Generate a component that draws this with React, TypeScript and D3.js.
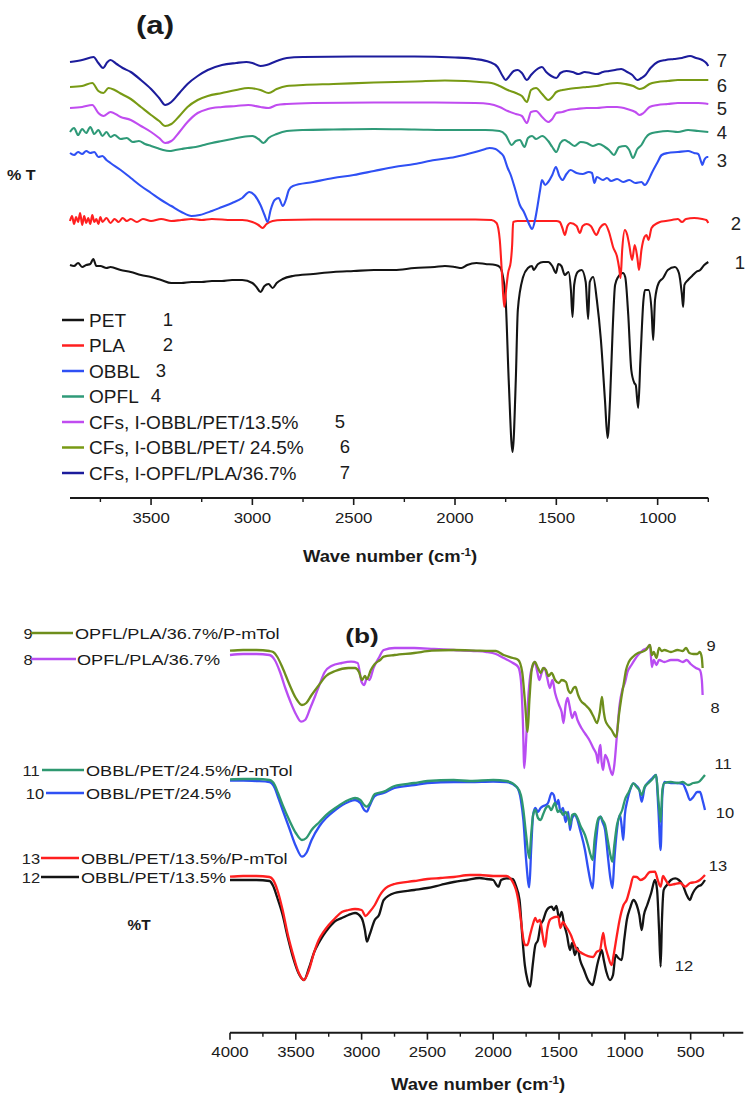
import React from "react";
import * as d3 from "d3";

// ---------- Panel (a): wavenumber (cm-1) vs stacked %T (arbitrary offset units) ----------
const PET_1: [number, number][] = [
  [3900,235],[3880,234],[3860,237],[3840,233],[3820,235],[3800,236],[3785,241],[3770,234],[3750,234],[3720,232],[3700,233],[3650,230],[3600,228],[3550,225],[3500,223],[3450,220],[3400,217],[3350,217],[3300,218],[3250,218],[3200,219],[3150,219],[3100,220],[3050,220],[3000,217],[2980,213],[2960,208],[2940,214],[2920,216],[2900,212],[2880,217],[2850,221],[2800,224],[2700,226],[2600,228],[2500,229],[2400,230],[2300,230],[2200,232],[2100,233],[2050,234],[2000,233],[1968,232],[1940,235],[1894,237],[1850,236],[1800,235],[1779,233],[1765,225],[1750,200],[1735,120],[1716,48],[1700,120],[1690,190],[1664,223],[1640,232],[1620,234],[1612,230],[1590,236],[1565,238],[1540,238],[1520,234],[1502,227],[1490,236],[1475,234],[1458,225],[1440,228],[1428,210],[1420,183],[1412,215],[1395,228],[1375,230],[1355,218],[1343,181],[1335,218],[1318,223],[1300,200],[1280,160],[1260,100],[1247,62],[1235,100],[1222,170],[1210,215],[1195,223],[1171,227],[1160,223],[1145,185],[1130,130],[1115,117],[1108,115],[1096,92],[1085,140],[1070,200],[1063,210],[1045,210],[1030,190],[1022,160],[1013,200],[995,217],[973,222],[950,230],[915,233],[895,227],[880,205],[874,193],[868,215],[850,220],[830,224],[810,228],[790,230],[770,235],[750,238],
];
const PLA_2: [number, number][] = [
  [3900,279],[3890,284],[3880,276],[3870,283],[3860,278],[3850,287],[3840,275],[3830,284],[3820,277],[3810,282],[3800,276],[3790,285],[3780,278],[3770,281],[3760,276],[3750,283],[3740,278],[3720,282],[3700,277],[3680,281],[3660,278],[3640,282],[3620,279],[3600,281],[3570,278],[3540,281],[3500,279],[3450,281],[3400,279],[3350,280],[3300,281],[3250,280],[3200,281],[3100,280],[3050,280],[3000,278],[2970,275],[2950,272],[2930,276],[2900,279],[2850,280],[2700,280.5],[2500,280.5],[2300,280.5],[2100,280.5],[1900,280.5],[1820,280],[1795,277],[1779,260],[1768,225],[1757,193],[1748,210],[1738,227],[1725,238],[1718,255],[1713,278],[1690,279],[1600,279],[1500,279],[1483,278],[1470,272],[1458,265],[1445,274],[1430,277],[1400,274],[1384,267],[1370,274],[1350,276],[1330,274],[1302,265],[1285,272],[1260,276],[1240,268],[1220,253],[1200,243],[1190,232],[1183,222],[1175,250],[1162,270],[1150,265],[1140,255],[1126,240],[1113,255],[1100,242],[1092,230],[1080,250],[1065,263],[1055,265],[1045,260],[1030,272],[1000,277],[989,278],[960,279],[930,280],[900,281],[880,278],[860,281],[820,282],[780,281],[760,280],[750,277],
];
const OBBL_3: [number, number][] = [
  [3900,347],[3880,345],[3860,348],[3840,346],[3820,349],[3800,347],[3780,348],[3760,343],[3740,344],[3720,340],[3700,337],[3650,330],[3600,322],[3550,314],[3500,307],[3450,300],[3400,294],[3350,288],[3300,284],[3260,285],[3200,289],[3150,293],[3100,297],[3050,302],[3015,308],[2990,305],[2960,295],[2940,285],[2925,278],[2910,290],[2890,300],[2870,302],[2850,294],[2835,300],[2820,310],[2800,314],[2700,318],[2600,322],[2500,325],[2400,329],[2300,333],[2200,336],[2100,340],[2000,343],[1900,348],[1850,351],[1830,352],[1800,351],[1780,348],[1761,344],[1740,332],[1725,325],[1702,310],[1680,295],[1660,288],[1643,280],[1630,274],[1620,271],[1605,280],[1596,290],[1580,310],[1571,320],[1555,315],[1540,318],[1520,325],[1502,333],[1485,324],[1470,320],[1450,326],[1430,330],[1400,327],[1370,326],[1340,328],[1324,327],[1312,317],[1300,323],[1270,320],[1250,322],[1230,319],[1200,321],[1170,318],[1140,320],[1110,317],[1080,318],[1063,315],[1045,320],[1029,327],[1000,338],[980,345],[950,347],[900,348],[850,349],[820,347],[800,346],[785,338],[779,335],[770,340],[755,343],[750,343],
];
const OPFL_4: [number, number][] = [
  [3900,368],[3880,372],[3860,365],[3840,371],[3820,367],[3800,373],[3780,366],[3760,370],[3740,364],[3720,368],[3700,363],[3680,365],[3650,361],[3620,362],[3590,358],[3560,359],[3530,356],[3500,354],[3470,352],[3440,350],[3410,349],[3380,350],[3350,351],[3320,352],[3280,353],[3240,355],[3200,357],[3150,359],[3100,361],[3050,363],[3000,364],[2970,361],[2945,357],[2920,362],[2880,366],[2830,369],[2750,370],[2600,370.5],[2400,371],[2200,370.5],[2000,370],[1850,370],[1780,369],[1750,365],[1720,355],[1700,359],[1680,360],[1657,353],[1640,362],[1620,364],[1600,361],[1570,364],[1540,359],[1520,353],[1500,348],[1480,357],[1460,360],[1440,358],[1410,354],[1380,358],[1350,357],[1320,354],[1290,356],[1260,353],[1240,350],[1216,345],[1190,353],[1160,354],[1140,350],[1122,342],[1100,351],[1080,355],[1060,362],[1040,366],[1000,368],[950,369],[900,368],[850,370],[800,369],[750,368],
];
const CF_OBBL_PET_135_5: [number, number][] = [
  [3900,392],[3840,393],[3790,395],[3760,387],[3735,384],[3700,388],[3650,383],[3600,380],[3550,374],[3500,368],[3460,362],[3430,357],[3400,359],[3360,368],[3320,378],[3270,387],[3220,391],[3150,393],[3080,394],[3020,395],[2960,393],[2920,392],[2880,395],[2830,396],[2700,397],[2400,397.5],[2100,397.5],[1900,397],[1830,396],[1780,393],[1740,389],[1700,386],[1670,384],[1645,377],[1625,388],[1600,389],[1570,383],[1540,378],[1520,381],[1500,387],[1470,388],[1440,390],[1400,391],[1350,392],[1300,392],[1250,393],[1200,393],[1150,391],[1110,388],[1090,385],[1070,387],[1040,393],[1000,395],[950,396],[900,397],[850,397],[800,397],[750,396],
];
const CF_OBBL_PET_245_6: [number, number][] = [
  [3900,413],[3840,414],[3790,417],[3760,409],[3735,407],[3710,412],[3680,410],[3645,406],[3600,401],[3550,393],[3500,385],[3460,379],[3430,374],[3400,376],[3360,384],[3320,393],[3270,400],[3220,404],[3150,407],[3080,410],[3020,412],[2960,410],[2920,407],[2880,411],[2830,414],[2750,415],[2600,416],[2400,417.5],[2200,418.5],[2050,419.5],[1950,419],[1880,418],[1820,417],[1780,414],[1740,410],[1700,407],[1670,404],[1645,398],[1625,410],[1600,412],[1570,406],[1540,400],[1520,403],[1500,408],[1470,410],[1440,411],[1400,412],[1350,413],[1300,414],[1250,416],[1200,417],[1160,416],[1120,414],[1090,411],[1070,412],[1040,416],[1000,418],[950,419],[900,420],[850,420],[800,420],[750,420],
];
const CF_OPFL_PLA_367_7: [number, number][] = [
  [3900,438],[3840,440],[3784,443],[3760,437],[3737,432],[3715,438],[3700,440],[3670,436],[3640,432],[3600,428],[3550,420],[3500,411],[3460,402],[3430,395],[3400,398],[3360,407],[3320,416],[3270,424],[3220,430],[3150,435],[3080,437],[3030,438],[3000,437],[2960,434],[2930,435],[2880,439],[2830,442],[2750,443],[2500,443.5],[2200,443.5],[2000,442.5],[1900,441],[1830,438],[1790,433],[1765,424],[1750,420],[1735,423],[1710,429],[1690,430],[1670,427],[1645,420],[1625,425],[1600,430],[1571,433],[1550,428],[1525,424],[1500,422],[1480,427],[1450,429],[1420,428],[1390,426],[1360,428],[1330,427],[1300,426],[1270,428],[1240,429],[1210,430],[1180,431],[1150,428],[1125,425],[1100,420],[1080,422],[1060,425],[1035,432],[1000,438],[960,440],[920,441],[880,442],[840,444],[810,442],[780,440],[760,437],[750,434],
];

// ---------- Panel (b) ----------
const OPFL_PLA_367_8: [number, number][] = [
  [4000,345],[3900,346],[3800,346],[3700,345],[3660,340],[3620,328],[3580,312],[3540,298],[3500,286],[3460,278.3],[3430,280],[3390,292],[3350,305],[3324,314],[3280,328],[3230,334],[3150,337],[3080,338.3],[3030,337],[3000,318],[2980,315],[2960,322],[2940,320],[2910,332],[2870,342],[2832,350],[2750,352],[2600,352],[2450,351],[2300,350],[2150,349],[2050,348],[1980,346],[1921,342],[1850,337],[1810,333],[1790,320],[1775,280],[1764,232],[1750,260],[1735,300],[1718,325],[1700,334],[1684,338],[1665,328],[1650,320],[1630,328],[1610,332],[1590,322],[1570,312],[1550,320],[1530,307],[1500,295],[1480,288],[1466,277],[1450,295],[1435,302],[1420,294],[1400,282],[1380,288],[1360,280],[1330,272],[1300,266],[1270,260],[1240,252],[1215,245],[1203,237],[1195,250],[1185,255],[1178,240],[1165,230],[1150,245],[1130,240],[1110,230],[1094,225],[1080,235],[1060,265],[1040,295],[1020,310],[1000,317],[980,328],[950,335],[900,345],[860,350],[830,352],[809,355],[795,333],[780,340],[760,335],[740,340],[700,338],[650,340],[600,340],[560,338],[530,340],[500,336],[460,332],[430,330],[415,320],[409,305],
];
const OPFL_PLA_367_PMTOL_9: [number, number][] = [
  [4000,349.3],[3900,350],[3800,350],[3700,349],[3672,348],[3640,343],[3600,332],[3550,316],[3500,302],[3453,295],[3420,297],[3380,305],[3324,315],[3270,324],[3200,329],[3100,332],[3050,332],[3020,328],[2997,320],[2975,324],[2960,321],[2930,330],[2900,336],[2860,340],[2832,343.3],[2750,345],[2600,347],[2467,349.3],[2300,350],[2100,349.3],[1980,349],[1921,345],[1850,342],[1810,340],[1780,328],[1760,300],[1739,268.3],[1725,300],[1710,328],[1700,335],[1684,338],[1660,332],[1640,327],[1620,332],[1600,330],[1580,324],[1556,327],[1530,320],[1502,317],[1480,320],[1447,318],[1430,310],[1411,307],[1390,312],[1375,313],[1355,305],[1338,300],[1300,295],[1265,290],[1240,284],[1211,277],[1190,288],[1174,303],[1160,288],[1149,280],[1125,274],[1101,270],[1080,265],[1065,263],[1045,285],[1029,300],[1010,315],[991,330],[970,338],[940,343],[900,347],[870,348],[840,350],[809,355],[795,345],[780,348],[760,342],[740,352],[720,349],[700,350],[650,348],[600,350],[560,349],[535,352],[510,347],[480,346],[450,346],[430,348],[415,342],[409,332],
];
const OBBL_PET_245_10: [number, number][] = [
  [4000,219.3],[3900,219.5],[3800,219],[3700,218],[3660,212],[3635,203],[3600,190],[3550,172],[3500,154],[3453,143.3],[3420,147],[3380,160],[3320,174],[3270,182],[3200,190],[3100,198],[3050,200],[3010,197],[2980,190],[2960,188.3],[2940,194],[2900,204],[2832,207],[2750,212],[2600,215],[2500,217],[2300,218],[2176,218],[2000,218.5],[1900,218],[1822,213],[1790,200],[1771,180],[1750,140],[1726,112.7],[1712,150],[1697,185],[1680,192],[1660,188],[1640,192],[1620,194],[1600,195],[1584,197],[1556,207],[1540,205],[1531,200],[1520,195],[1505,200],[1490,188],[1470,192],[1450,178],[1430,188],[1417,170],[1400,182],[1380,185],[1360,180],[1340,170],[1303,150],[1280,132],[1260,118],[1244,111.7],[1230,140],[1214,165],[1200,180],[1184,183.3],[1170,178],[1150,170],[1130,145],[1110,122],[1094,112],[1080,140],[1060,170],[1037,185],[1025,175],[1012,160],[1000,185],[980,200],[960,210],[935,216.7],[910,214],[890,210],[872,198.3],[850,212],[820,218],[790,222],[763,225],[745,190],[728,150],[715,205],[700,218],[650,217],[600,217],[560,216],[530,208],[505,200],[480,203],[450,208],[429,208],[410,200],[391,190],
];
const OBBL_PET_245_PMTOL_11: [number, number][] = [
  [4000,220.7],[3900,221],[3800,221],[3700,220],[3660,215],[3635,207],[3600,195],[3550,180],[3500,167],[3453,160],[3420,162],[3380,170],[3320,178],[3270,185],[3200,192],[3100,200],[3050,202],[3010,200],[2980,195],[2960,193.3],[2940,196],[2900,206],[2832,208.3],[2750,214],[2600,217],[2500,219],[2300,220],[2176,219],[2000,220],[1900,219],[1822,213.3],[1790,205],[1771,190],[1750,165],[1726,141.7],[1712,165],[1697,185],[1680,190],[1660,182],[1640,180],[1620,186],[1600,192],[1580,194],[1560,190],[1531,197],[1510,188],[1490,190],[1470,185],[1450,188],[1430,182],[1417,175],[1400,185],[1380,186],[1360,182],[1340,175],[1303,165],[1280,155],[1260,145],[1244,140],[1230,160],[1214,175],[1200,182],[1184,183.3],[1170,180],[1150,175],[1130,160],[1110,145],[1094,138.3],[1080,155],[1060,175],[1037,185],[1020,190],[1000,200],[970,208],[935,216.7],[910,213],[890,210],[872,205],[850,213],[820,217],[790,221],[763,225],[745,200],[728,178.3],[715,210],[700,217],[650,218],[600,217],[560,218],[520,215],[480,217],[440,218],[410,222],[391,225],
];
const OBBL_PET_135_12: [number, number][] = [
  [4000,120],[3900,120],[3800,120],[3700,119],[3672,114],[3640,102],[3600,85],[3560,62],[3520,42],[3480,27],[3438,20],[3400,32],[3360,48],[3326,57],[3290,65],[3250,72],[3200,79],[3150,82],[3100,85],[3050,87],[3000,82],[2975,70],[2960,58.3],[2940,65],[2900,80],[2868,85],[2832,100],[2750,107],[2600,110],[2500,112],[2400,115],[2300,118],[2200,120],[2104,122],[2050,121],[2000,120],[1975,115],[1961,113.3],[1940,120],[1900,121.7],[1850,121],[1830,115],[1800,100],[1780,65],[1760,35],[1740,20],[1720,13.3],[1700,35],[1680,55],[1660,60],[1640,75],[1620,80],[1600,88],[1580,92],[1556,93.3],[1540,90],[1520,94],[1500,82],[1480,88],[1460,75],[1440,65],[1417,50],[1400,57],[1380,45],[1360,52],[1340,40],[1310,30],[1280,20],[1265,17],[1245,15],[1225,25],[1210,35],[1190,45],[1176,50],[1160,40],[1140,28],[1113,20],[1090,25],[1070,45],[1050,42],[1024,40],[1005,60],[985,80],[960,92],[935,100],[910,95],[890,85],[872,70],[855,85],[830,95],[800,107],[771,120],[755,110],[740,70],[728,33.3],[718,80],[705,110],[680,115],[650,120],[617,121.7],[590,120],[560,115],[530,105],[505,100],[490,105],[470,110],[440,114],[420,115],[391,120],
];
const OBBL_PET_135_PMTOL_13: [number, number][] = [
  [4000,123.3],[3900,124],[3800,124],[3700,123],[3672,120],[3640,110],[3600,90],[3560,65],[3520,45],[3480,28],[3438,20],[3400,30],[3360,48],[3326,60],[3290,68],[3250,75],[3200,82],[3150,88],[3100,90],[3050,91],[3000,90],[2970,84],[2940,88],[2900,95],[2860,105],[2832,110],[2750,116],[2600,119],[2500,121],[2400,122],[2300,123],[2176,125],[2100,125],[2000,124],[1900,124],[1835,113.3],[1810,100],[1790,80],[1770,60],[1758,55],[1740,55],[1720,65],[1700,75],[1680,82],[1665,78],[1645,80],[1625,65],[1607,53.3],[1590,70],[1570,80],[1550,82],[1530,83],[1506,83.3],[1490,72],[1470,78],[1450,74],[1430,70],[1410,65],[1390,58],[1370,52],[1340,48],[1300,45],[1265,43.3],[1240,43],[1215,48],[1189,50],[1164,67],[1150,55],[1130,45],[1100,35],[1085,45],[1060,65],[1040,80],[1010,95],[986,100],[960,112],[935,123.3],[910,123],[880,120],[850,122],[810,128],[771,128.3],[750,120],[728,113.3],[710,124],[690,120],[660,115],[620,116],[580,117],[540,113.3],[505,117],[460,118],[430,120],[391,125],
];

const TICKS_A = [3500, 3000, 2500, 2000, 1500, 1000];
const MINOR_A = [3750, 3250, 2750, 2250, 1750, 1250, 750];
const TICKS_B = [4000, 3500, 3000, 2500, 2000, 1500, 1000, 500];
const MINOR_B = [3750, 3250, 2750, 2250, 1750, 1250, 750, 250];

const LEGEND_A = ["PET", "PLA", "OBBL", "OPFL", "CFs, I-OBBL/PET/13.5%", "CFs, I-OBBL/PET/ 24.5%", "CFs, I-OPFL/PLA/36.7%"];
const LEGEND_A_NUM = ["1", "2", "3", "4", "5", "6", "7"];

const FONT = "'Liberation Sans', Arial, Helvetica, sans-serif";

const C = {
  black: "#141414",
  red: "#ff1f1f",
  blue: "#2f50f4",
  teal: "#2f9a78",
  violet: "#c04cf0",
  olive: "#789a14",
  navy: "#1c1c9c",
  teal2: "#2e9870",
  olive2: "#6e8e1c",
  violet2: "#b94df2",
};

function T({ x, y, children, size = 14, sx = 1.2, anchor = "start", bold = false, fill = "#1a1a1a" }: any) {
  return (
    <text
      transform={`translate(${x},${y}) scale(${sx},1)`}
      fontFamily={FONT}
      fontSize={size}
      fontWeight={bold ? "bold" : "normal"}
      textAnchor={anchor}
      fill={fill}
    >
      {children}
    </text>
  );
}

export default function App() {
  // panel (a) scales
  const xA = d3.scaleLinear().domain([3900, 750]).range([70, 708.3]);
  const yA = d3.scaleLinear().domain([0, 500]).range([500, 0]);
  // panel (b) scales
  const xB = d3.scaleLinear().domain([4000, 100]).range([230, 743.3]);
  const yB = d3.scaleLinear().domain([0, 400]).range([1000, 600]);

  const lineA = d3.line<[number, number]>().x((d) => xA(d[0])).y((d) => yA(d[1])).curve(d3.curveMonotoneX);
  const lineB = d3.line<[number, number]>().x((d) => xB(d[0])).y((d) => yB(d[1])).curve(d3.curveMonotoneX);

  const seriesA = [
    { d: PET_1, c: C.black },
    { d: PLA_2, c: C.red },
    { d: OBBL_3, c: C.blue },
    { d: OPFL_4, c: C.teal },
    { d: CF_OBBL_PET_135_5, c: C.violet },
    { d: CF_OBBL_PET_245_6, c: C.olive },
    { d: CF_OPFL_PLA_367_7, c: C.navy },
  ];
  const seriesB = [
    { d: OPFL_PLA_367_8, c: C.violet2 },
    { d: OPFL_PLA_367_PMTOL_9, c: C.olive2 },
    { d: OBBL_PET_245_10, c: C.blue },
    { d: OBBL_PET_245_PMTOL_11, c: C.teal2 },
    { d: OBBL_PET_135_12, c: C.black },
    { d: OBBL_PET_135_PMTOL_13, c: C.red },
  ];

  const legendAColors = [C.black, C.red, C.blue, C.teal, C.violet, C.olive, C.navy];
  const legendANumX = [168, 168, 161, 156, 340, 345, 345];
  const rightA = [
    { t: "7", x: 722, y: 67 },
    { t: "6", x: 722, y: 92 },
    { t: "5", x: 722, y: 115 },
    { t: "4", x: 722, y: 139 },
    { t: "3", x: 722, y: 167 },
    { t: "2", x: 736, y: 230 },
    { t: "1", x: 740, y: 269 },
  ];

  const legendB = [
    { n: "9", nx: 28, y: 633, l0: 31, l1: 73, tx: 75, t: "OPFL/PLA/36.7%/P-mTol", c: C.olive2 },
    { n: "8", nx: 28, y: 659, l0: 31, l1: 76, tx: 77, t: "OPFL/PLA/36.7%", c: C.violet2 },
    { n: "11", nx: 31, y: 770, l0: 42, l1: 84, tx: 86, t: "OBBL/PET/24.5%/P-mTol", c: C.teal2 },
    { n: "10", nx: 35, y: 793, l0: 46, l1: 84, tx: 86, t: "OBBL/PET/24.5%", c: C.blue },
    { n: "13", nx: 31, y: 858, l0: 41, l1: 79, tx: 81, t: "OBBL/PET/13.5%/P-mTol", c: C.red },
    { n: "12", nx: 31, y: 877, l0: 41, l1: 79, tx: 81, t: "OBBL/PET/13.5%", c: C.black },
  ];
  const rightB = [
    { t: "9", x: 711, y: 651 },
    { t: "8", x: 715, y: 713 },
    { t: "11", x: 723, y: 769 },
    { t: "10", x: 725, y: 818 },
    { t: "13", x: 718, y: 871 },
    { t: "12", x: 684, y: 971 },
  ];

  const axisYA = 498;
  const axisYB = 1032.7;

  return (
    <svg
      width={752}
      height={1100}
      viewBox="0 0 752 1100"
      style={{ position: "absolute", left: 0, top: 0, background: "#fff" }}
    >
      <rect x={0} y={0} width={752} height={1100} fill="#fff" />

      {/* ---------- Panel (a) ---------- */}
      <T x={155} y={34} size={26} sx={1.2} anchor="middle" bold>(a)</T>
      <T x={7} y={180} size={14} sx={1.15} bold>% T</T>

      {seriesA.map((s, i) => (
        <path key={i} d={lineA(s.d) || ""} fill="none" stroke={s.c} strokeWidth={2.1} strokeLinejoin="round" />
      ))}

      {rightA.map((r) => (
        <T key={r.t} x={r.x} y={r.y} size={18.5} sx={1.0} anchor="middle" fill="#222">{r.t}</T>
      ))}

      {LEGEND_A.map((name, i) => {
        const cy = 320 + i * 25.5;
        return (
          <g key={name}>
            <line x1={62} x2={84} y1={cy} y2={cy} stroke={legendAColors[i]} strokeWidth={2.5} />
            <T x={89} y={cy + 6.5} size={18.5} sx={1.03}>{name}</T>
            <T x={legendANumX[i]} y={cy + 5.5} size={18.5} sx={1.0} anchor="middle">{LEGEND_A_NUM[i]}</T>
          </g>
        );
      })}

      {/* axis (a) */}
      <line x1={xA(3900)} x2={xA(750)} y1={axisYA} y2={axisYA} stroke="#1a1a1a" strokeWidth={2} />
      {TICKS_A.map((t) => (
        <g key={t}>
          <line x1={xA(t)} x2={xA(t)} y1={axisYA} y2={axisYA + 7} stroke="#1a1a1a" strokeWidth={1.6} />
          <T x={xA(t)} y={axisYA + 25} size={14} sx={1.2} anchor="middle">{String(t)}</T>
        </g>
      ))}
      {MINOR_A.map((t) => (
        <line key={t} x1={xA(t)} x2={xA(t)} y1={axisYA} y2={axisYA + 4} stroke="#1a1a1a" strokeWidth={1.4} />
      ))}
      <text transform={`translate(390,${axisYA + 64}) scale(1.15,1)`} fontFamily={FONT} fontSize={16} fontWeight="bold" textAnchor="middle" fill="#1a1a1a">
        Wave number (cm<tspan dy={-6} fontSize={10}>-1</tspan><tspan dy={6}>)</tspan>
      </text>

      {/* ---------- Panel (b) ---------- */}
      <T x={362} y={643} size={21} sx={1.25} anchor="middle" bold>(b)</T>

      {seriesB.map((s, i) => (
        <path key={i} d={lineB(s.d) || ""} fill="none" stroke={s.c} strokeWidth={2.3} strokeLinejoin="round" />
      ))}

      {legendB.map((l) => (
        <g key={l.n}>
          <T x={l.nx} y={l.y + 6} size={15} sx={1.1} anchor="middle" fill="#222">{l.n}</T>
          <line x1={l.l0} x2={l.l1} y1={l.y} y2={l.y} stroke={l.c} strokeWidth={2.5} />
          <T x={l.tx} y={l.y + 6} size={15.5} sx={1.17}>{l.t}</T>
        </g>
      ))}
      {rightB.map((r) => (
        <T key={r.t} x={r.x} y={r.y} size={15} sx={1.1} anchor="middle" fill="#222">{r.t}</T>
      ))}
      <T x={139} y={930} size={14} sx={1.1} anchor="middle" bold>%T</T>

      {/* axis (b) */}
      <line x1={xB(4000)} x2={xB(100)} y1={axisYB} y2={axisYB} stroke="#1a1a1a" strokeWidth={2} />
      {TICKS_B.map((t) => (
        <g key={t}>
          <line x1={xB(t)} x2={xB(t)} y1={axisYB} y2={axisYB + 7} stroke="#1a1a1a" strokeWidth={1.6} />
          <T x={xB(t)} y={axisYB + 24} size={14} sx={1.2} anchor="middle">{String(t)}</T>
        </g>
      ))}
      {MINOR_B.map((t) => (
        <line key={t} x1={xB(t)} x2={xB(t)} y1={axisYB} y2={axisYB + 4} stroke="#1a1a1a" strokeWidth={1.4} />
      ))}
      <text transform={`translate(478,${axisYB + 57}) scale(1.15,1)`} fontFamily={FONT} fontSize={16} fontWeight="bold" textAnchor="middle" fill="#1a1a1a">
        Wave number (cm<tspan dy={-6} fontSize={10}>-1</tspan><tspan dy={6}>)</tspan>
      </text>
    </svg>
  );
}
